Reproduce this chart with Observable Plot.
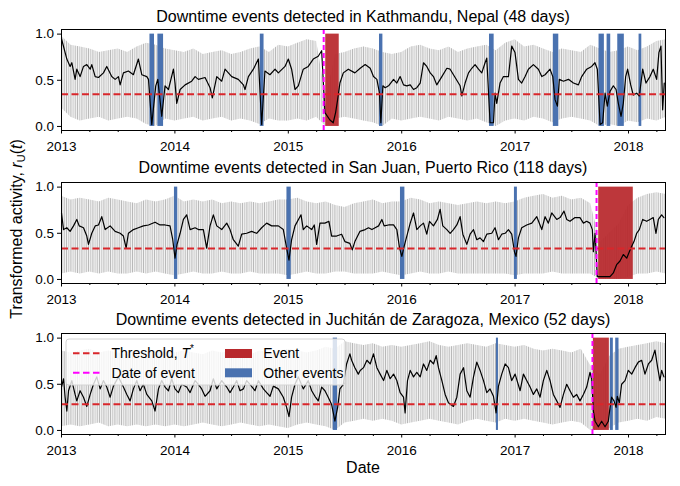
<!DOCTYPE html>
<html><head><meta charset="utf-8">
<script src="https://cdn.jsdelivr.net/npm/d3@7"></script>
<script src="https://cdn.jsdelivr.net/npm/@observablehq/plot@0.6"></script>
<style>
html,body{margin:0;padding:0;background:#fff;}
#wrap{position:relative;width:680px;height:486px;font-family:"Liberation Sans",Arial,sans-serif;}
#wrap svg{position:absolute;left:0;}
</style></head><body><div id="wrap"></div>
<script>
// ---------------- data (decimal years) ----------------
const titles = [
  "Downtime events detected in Kathmandu, Nepal (48 days)",
  "Downtime events detected in San Juan, Puerto Rico (118 days)",
  "Downtime events detected in Juchitán de Zaragoza, Mexico (52 days)"
];
const xTicks = [2013, 2014, 2015, 2016, 2017, 2018];
const xMinorTicks = [2013.25,2013.5,2013.75,2014.25,2014.5,2014.75,2015.25,2015.5,2015.75,2016.25,2016.5,2016.75,2017.25,2017.5,2017.75,2018.25];
const yTicks = [0, 0.5, 1.0];

const thresholds = [0.35, 0.335, 0.285];
const eventDates = [2015.312, 2017.718, 2017.682];
const eventSpans = [[2015.33, 2015.449], [2017.737, 2018.042], [2017.69, 2017.831]];

const otherKathmandu = [[2013.78,2013.82],[2013.85,2013.90],[2014.753,2014.786],[2015.804,2015.834],[2016.774,2016.815],[2017.337,2017.385],[2017.740,2017.787],[2017.811,2017.843],[2017.905,2017.963],[2018.093,2018.117]];
const otherSanJuan = [[2013.996,2014.025],[2014.988,2015.026],[2015.989,2016.028],[2016.994,2017.020]];
const otherJuchitan = [[2015.396,2015.434],[2016.835,2016.853],[2017.84,2017.866],[2017.887,2017.916]];

// smoothed activity (black line)
const smoothKathmandu = [[2013.000,0.95],[2013.047,0.73],[2013.076,0.65],[2013.091,0.69],[2013.120,0.51],[2013.135,0.62],[2013.164,0.54],[2013.194,0.65],[2013.223,0.67],[2013.253,0.62],[2013.267,0.67],[2013.297,0.54],[2013.326,0.53],[2013.370,0.58],[2013.399,0.65],[2013.443,0.54],[2013.473,0.51],[2013.502,0.54],[2013.517,0.45],[2013.546,0.58],[2013.590,0.60],[2013.634,0.56],[2013.678,0.73],[2013.708,0.56],[2013.752,0.54],[2013.767,0.51],[2013.796,0.02],[2013.831,0.44],[2013.849,0.51],[2013.884,0.11],[2013.913,0.44],[2013.943,0.40],[2013.987,0.62],[2014.001,0.47],[2014.016,0.25],[2014.046,0.40],[2014.090,0.45],[2014.148,0.49],[2014.178,0.54],[2014.207,0.51],[2014.266,0.53],[2014.310,0.42],[2014.330,0.31],[2014.369,0.54],[2014.413,0.49],[2014.442,0.62],[2014.501,0.54],[2014.559,0.51],[2014.604,0.45],[2014.618,0.40],[2014.648,0.54],[2014.692,0.62],[2014.736,0.73],[2014.765,0.02],[2014.794,0.60],[2014.838,0.56],[2014.883,0.62],[2014.912,0.58],[2014.971,0.65],[2015.000,0.73],[2015.029,0.62],[2015.059,0.40],[2015.088,0.44],[2015.132,0.62],[2015.176,0.65],[2015.220,0.73],[2015.264,0.76],[2015.294,0.82],[2015.323,0.15],[2015.367,0.07],[2015.396,0.04],[2015.417,0.15],[2015.435,0.29],[2015.455,0.47],[2015.485,0.58],[2015.529,0.62],[2015.587,0.58],[2015.634,0.63],[2015.678,0.67],[2015.722,0.63],[2015.751,0.54],[2015.781,0.51],[2015.804,0.36],[2015.816,0.04],[2015.834,0.44],[2015.854,0.42],[2015.884,0.44],[2015.928,0.51],[2015.957,0.47],[2015.986,0.54],[2016.016,0.45],[2016.045,0.44],[2016.075,0.45],[2016.104,0.40],[2016.133,0.42],[2016.163,0.47],[2016.192,0.69],[2016.221,0.65],[2016.251,0.58],[2016.280,0.54],[2016.309,0.45],[2016.354,0.54],[2016.398,0.63],[2016.427,0.62],[2016.471,0.53],[2016.515,0.44],[2016.530,0.33],[2016.559,0.47],[2016.589,0.58],[2016.618,0.63],[2016.647,0.67],[2016.677,0.62],[2016.706,0.58],[2016.735,0.69],[2016.750,0.74],[2016.779,0.04],[2016.809,0.04],[2016.823,0.36],[2016.838,0.25],[2016.867,0.47],[2016.897,0.54],[2016.941,0.54],[2016.970,0.87],[2016.999,0.80],[2017.029,0.51],[2017.058,0.47],[2017.088,0.54],[2017.117,0.62],[2017.161,0.67],[2017.205,0.62],[2017.235,0.54],[2017.264,0.56],[2017.308,0.62],[2017.332,0.54],[2017.352,0.29],[2017.373,0.22],[2017.390,0.51],[2017.426,0.49],[2017.470,0.51],[2017.514,0.47],[2017.558,0.45],[2017.587,0.54],[2017.631,0.62],[2017.675,0.65],[2017.704,0.69],[2017.725,0.62],[2017.749,0.02],[2017.772,0.04],[2017.793,0.36],[2017.813,0.22],[2017.837,0.38],[2017.866,0.44],[2017.890,0.40],[2017.910,0.25],[2017.934,0.11],[2017.954,0.25],[2017.975,0.54],[2017.992,0.62],[2018.019,0.45],[2018.042,0.34],[2018.072,0.36],[2018.095,0.33],[2018.125,0.62],[2018.154,0.47],[2018.189,0.54],[2018.218,0.62],[2018.248,0.51],[2018.268,0.80],[2018.286,0.87],[2018.301,0.18],[2018.315,0.47]];

const smoothSanJuan = [[2013.000,0.72],[2013.018,0.54],[2013.047,0.56],[2013.076,0.52],[2013.106,0.58],[2013.135,0.65],[2013.156,0.58],[2013.194,0.56],[2013.223,0.47],[2013.238,0.38],[2013.267,0.50],[2013.297,0.58],[2013.326,0.59],[2013.355,0.68],[2013.385,0.54],[2013.429,0.58],[2013.473,0.52],[2013.517,0.50],[2013.546,0.47],[2013.570,0.34],[2013.590,0.50],[2013.634,0.54],[2013.678,0.56],[2013.722,0.58],[2013.767,0.59],[2013.825,0.62],[2013.869,0.59],[2013.913,0.59],[2013.957,0.58],[2013.981,0.43],[2014.001,0.23],[2014.019,0.38],[2014.046,0.50],[2014.075,0.65],[2014.104,0.70],[2014.134,0.54],[2014.178,0.56],[2014.207,0.54],[2014.251,0.54],[2014.280,0.34],[2014.310,0.58],[2014.339,0.70],[2014.369,0.58],[2014.413,0.54],[2014.457,0.61],[2014.486,0.54],[2014.515,0.43],[2014.559,0.36],[2014.589,0.49],[2014.633,0.50],[2014.677,0.52],[2014.721,0.50],[2014.765,0.56],[2014.809,0.61],[2014.853,0.58],[2014.912,0.58],[2014.956,0.54],[2014.985,0.34],[2015.006,0.21],[2015.029,0.43],[2015.059,0.58],[2015.112,0.70],[2015.132,0.54],[2015.162,0.58],[2015.206,0.54],[2015.229,0.59],[2015.250,0.38],[2015.279,0.61],[2015.323,0.61],[2015.358,0.63],[2015.382,0.47],[2015.426,0.47],[2015.470,0.49],[2015.499,0.41],[2015.543,0.39],[2015.564,0.32],[2015.587,0.41],[2015.631,0.52],[2015.678,0.54],[2015.707,0.56],[2015.737,0.54],[2015.766,0.56],[2015.796,0.58],[2015.825,0.65],[2015.845,0.58],[2015.884,0.59],[2015.928,0.59],[2015.957,0.54],[2015.981,0.34],[2016.001,0.25],[2016.022,0.36],[2016.045,0.47],[2016.075,0.61],[2016.104,0.72],[2016.133,0.54],[2016.163,0.58],[2016.192,0.61],[2016.221,0.49],[2016.245,0.63],[2016.280,0.58],[2016.315,0.65],[2016.339,0.76],[2016.362,0.58],[2016.398,0.54],[2016.427,0.50],[2016.456,0.54],[2016.486,0.59],[2016.515,0.68],[2016.539,0.49],[2016.574,0.38],[2016.603,0.49],[2016.633,0.54],[2016.662,0.43],[2016.691,0.45],[2016.721,0.41],[2016.750,0.49],[2016.794,0.50],[2016.823,0.56],[2016.853,0.43],[2016.882,0.49],[2016.912,0.50],[2016.941,0.54],[2016.970,0.49],[2016.994,0.30],[2017.008,0.25],[2017.029,0.45],[2017.058,0.56],[2017.102,0.59],[2017.147,0.61],[2017.191,0.68],[2017.235,0.54],[2017.264,0.68],[2017.293,0.61],[2017.323,0.72],[2017.367,0.65],[2017.396,0.67],[2017.431,0.74],[2017.455,0.65],[2017.484,0.63],[2017.528,0.67],[2017.572,0.67],[2017.602,0.61],[2017.631,0.63],[2017.660,0.61],[2017.681,0.54],[2017.690,0.30],[2017.705,0.50],[2017.725,0.03],[2017.763,0.03],[2017.837,0.03],[2017.866,0.07],[2017.895,0.16],[2017.925,0.20],[2017.954,0.27],[2017.984,0.23],[2018.007,0.30],[2018.028,0.36],[2018.048,0.41],[2018.072,0.50],[2018.095,0.54],[2018.125,0.65],[2018.160,0.63],[2018.189,0.65],[2018.218,0.67],[2018.242,0.50],[2018.263,0.65],[2018.292,0.70],[2018.312,0.67]];

const smoothJuchitan = [[2013.000,0.47],[2013.018,0.56],[2013.032,0.36],[2013.047,0.21],[2013.062,0.43],[2013.091,0.54],[2013.120,0.39],[2013.135,0.32],[2013.164,0.43],[2013.194,0.36],[2013.223,0.26],[2013.253,0.39],[2013.282,0.50],[2013.311,0.58],[2013.341,0.45],[2013.370,0.54],[2013.399,0.47],[2013.429,0.36],[2013.458,0.48],[2013.502,0.58],[2013.546,0.47],[2013.576,0.39],[2013.605,0.32],[2013.634,0.45],[2013.664,0.54],[2013.693,0.43],[2013.722,0.50],[2013.752,0.39],[2013.796,0.32],[2013.825,0.21],[2013.855,0.45],[2013.884,0.54],[2013.913,0.47],[2013.943,0.43],[2013.972,0.56],[2014.001,0.45],[2014.031,0.41],[2014.060,0.50],[2014.104,0.47],[2014.134,0.41],[2014.178,0.54],[2014.207,0.50],[2014.236,0.45],[2014.266,0.37],[2014.310,0.43],[2014.339,0.56],[2014.369,0.45],[2014.413,0.54],[2014.457,0.47],[2014.486,0.41],[2014.515,0.47],[2014.545,0.54],[2014.574,0.43],[2014.604,0.45],[2014.633,0.54],[2014.662,0.50],[2014.706,0.43],[2014.736,0.54],[2014.780,0.45],[2014.809,0.41],[2014.839,0.37],[2014.868,0.48],[2014.912,0.45],[2014.956,0.36],[2014.985,0.25],[2015.006,0.15],[2015.029,0.36],[2015.059,0.50],[2015.088,0.58],[2015.132,0.45],[2015.176,0.54],[2015.206,0.43],[2015.235,0.37],[2015.264,0.32],[2015.294,0.47],[2015.323,0.43],[2015.352,0.36],[2015.382,0.28],[2015.411,0.10],[2015.435,0.25],[2015.455,0.45],[2015.485,0.50],[2015.514,0.72],[2015.543,0.83],[2015.558,0.76],[2015.587,0.68],[2015.617,0.61],[2015.634,0.65],[2015.663,0.68],[2015.693,0.76],[2015.722,0.72],[2015.751,0.83],[2015.781,0.68],[2015.810,0.61],[2015.840,0.54],[2015.869,0.65],[2015.898,0.56],[2015.928,0.61],[2015.957,0.54],[2015.986,0.41],[2016.016,0.36],[2016.030,0.19],[2016.051,0.54],[2016.075,0.65],[2016.104,0.58],[2016.133,0.63],[2016.163,0.58],[2016.192,0.72],[2016.221,0.65],[2016.251,0.76],[2016.280,0.72],[2016.304,0.81],[2016.324,0.68],[2016.354,0.54],[2016.383,0.39],[2016.412,0.30],[2016.456,0.26],[2016.486,0.36],[2016.515,0.61],[2016.545,0.68],[2016.574,0.43],[2016.603,0.36],[2016.633,0.58],[2016.662,0.74],[2016.691,0.65],[2016.721,0.54],[2016.750,0.41],[2016.779,0.45],[2016.809,0.37],[2016.832,0.19],[2016.853,0.48],[2016.882,0.61],[2016.912,0.72],[2016.941,0.68],[2016.970,0.54],[2017.000,0.61],[2017.044,0.43],[2017.073,0.61],[2017.102,0.54],[2017.132,0.47],[2017.161,0.39],[2017.191,0.45],[2017.220,0.36],[2017.249,0.54],[2017.279,0.65],[2017.308,0.54],[2017.337,0.39],[2017.367,0.32],[2017.396,0.25],[2017.426,0.39],[2017.455,0.50],[2017.484,0.43],[2017.514,0.36],[2017.543,0.39],[2017.572,0.32],[2017.602,0.39],[2017.631,0.47],[2017.660,0.63],[2017.675,0.56],[2017.690,0.21],[2017.705,0.10],[2017.734,0.04],[2017.763,0.10],[2017.793,0.04],[2017.822,0.10],[2017.837,0.25],[2017.851,0.36],[2017.872,0.32],[2017.890,0.25],[2017.901,0.37],[2017.919,0.30],[2017.939,0.50],[2017.969,0.54],[2017.998,0.65],[2018.028,0.61],[2018.057,0.68],[2018.086,0.74],[2018.116,0.76],[2018.145,0.61],[2018.175,0.72],[2018.204,0.76],[2018.233,0.87],[2018.257,0.68],[2018.277,0.54],[2018.292,0.65],[2018.312,0.58]];

// daily-activity envelope (grey), one value per month from Jan 2013
const grayHiKathmandu = [0.98,0.88,0.86,0.84,0.80,0.82,0.84,0.80,0.86,0.90,0.88,0.84, 0.82,0.80,0.84,0.78,0.80,0.82,0.78,0.80,0.84,0.86,0.80,0.88, 0.86,0.90,0.94,0.92,0.30,0.78,0.80,0.84,0.86,0.84,0.80,0.78, 0.80,0.86,0.88,0.84,0.82,0.86,0.80,0.84,0.86,0.88,0.82,0.90, 0.94,0.86,0.88,0.84,0.80,0.84,0.82,0.80,0.88,0.84,0.80,0.82, 0.86,0.82,0.86,0.92,0.94];
const grayLoKathmandu = [0.20,0.10,0.06,0.08,0.10,0.06,0.08,0.10,0.08,0.02,0.00,0.08, 0.06,0.08,0.10,0.06,0.08,0.10,0.06,0.08,0.06,0.02,0.08,0.06, 0.06,0.08,0.06,0.10,0.00,0.08,0.10,0.08,0.06,0.04,0.00,0.08, 0.06,0.08,0.10,0.08,0.06,0.10,0.08,0.06,0.08,0.04,0.00,0.06, 0.08,0.06,0.10,0.08,0.04,0.08,0.10,0.08,0.06,0.00,0.02,0.00, 0.06,0.04,0.08,0.06,0.10];
const grayHiSanJuan = [0.90,0.86,0.88,0.86,0.84,0.88,0.86,0.84,0.82,0.86,0.84,0.86, 0.90,0.84,0.86,0.84,0.86,0.82,0.84,0.82,0.84,0.82,0.84,0.86, 0.86,0.88,0.84,0.82,0.84,0.80,0.78,0.82,0.84,0.86,0.82,0.84, 0.84,0.88,0.86,0.82,0.84,0.82,0.80,0.82,0.84,0.82,0.84,0.82, 0.84,0.88,0.90,0.92,0.88,0.90,0.86,0.88,0.82,0.40,0.50,0.60, 0.80,0.88,0.92,0.94,0.92];
const grayLoSanJuan = [0.06,0.08,0.06,0.08,0.06,0.08,0.06,0.06,0.08,0.06,0.08,0.06, 0.04,0.06,0.08,0.06,0.06,0.08,0.06,0.06,0.08,0.06,0.06,0.06, 0.04,0.06,0.08,0.06,0.06,0.08,0.08,0.06,0.06,0.06,0.08,0.06, 0.04,0.06,0.08,0.06,0.06,0.08,0.06,0.06,0.06,0.06,0.06,0.06, 0.04,0.06,0.06,0.06,0.08,0.06,0.06,0.06,0.06,0.00,0.00,0.00, 0.02,0.06,0.06,0.08,0.06];
const grayHiJuchitan = [0.86,0.84,0.86,0.88,0.84,0.86,0.84,0.82,0.86,0.84,0.86,0.88, 0.84,0.86,0.84,0.82,0.86,0.84,0.86,0.84,0.82,0.86,0.84,0.86, 0.88,0.86,0.84,0.86,0.90,0.88,0.96,0.94,0.92,0.94,0.90,0.92, 0.90,0.92,0.94,0.96,0.92,0.90,0.92,0.94,0.92,0.90,0.94,0.92, 0.90,0.92,0.88,0.86,0.88,0.86,0.84,0.88,0.70,0.60,0.80,0.88, 0.90,0.92,0.94,0.96,0.94];
const grayLoJuchitan = [0.04,0.06,0.04,0.06,0.08,0.04,0.06,0.04,0.06,0.04,0.06,0.04, 0.06,0.04,0.06,0.08,0.06,0.04,0.06,0.08,0.06,0.04,0.06,0.04, 0.02,0.06,0.08,0.06,0.04,0.00,0.08,0.10,0.12,0.10,0.12,0.10, 0.06,0.08,0.10,0.12,0.10,0.08,0.06,0.10,0.12,0.10,0.08,0.12, 0.10,0.12,0.10,0.08,0.06,0.08,0.10,0.08,0.00,0.00,0.02,0.08, 0.10,0.12,0.10,0.14,0.12];

const legendItems = ["Threshold, T*", "Date of event", "Event", "Other events"];

// ---------------- styling ----------------
const BLUE = "#4a72b0", RED = "#b8282c", TRED = "#d9262b", MAG = "#ff00ff", GRAY = "#b9b9b9";
const FONT = "'Liberation Sans', Arial, Helvetica, sans-serif";

const panels = [
  {smooth: smoothKathmandu, hi: grayHiKathmandu, lo: grayLoKathmandu, other: otherKathmandu, top: 29},
  {smooth: smoothSanJuan, hi: grayHiSanJuan, lo: grayLoSanJuan, other: otherSanJuan, top: 181.7},
  {smooth: smoothJuchitan, hi: grayHiJuchitan, lo: grayLoJuchitan, other: otherJuchitan, top: 333}
];

const wrap = document.getElementById("wrap");

panels.forEach((p, k) => {
  const env = p.hi.map((h, i) => ({x: 2013 + i / 12, hi: h, lo: p.lo[i]}));
  const pid = "gstripe" + k;
  const svg = Plot.plot({
    width: 680, height: 131,
    marginLeft: 61, marginRight: 15, marginTop: 5, marginBottom: 25,
    style: {fontFamily: FONT, fontSize: "13.5px", color: "#000", background: "transparent", overflow: "visible"},
    x: {domain: [2013, 2018.326]},
    y: {domain: [-0.044, 1.05]},
    marks: [
      Plot.areaY(env, {x: "x", y1: "lo", y2: "hi", fill: "#f1f1f1"}),
      Plot.areaY(env, {x: "x", y1: "lo", y2: "hi", fill: `url(#${pid})`}),
      Plot.rect(p.other, {x1: d => d[0], x2: d => d[1], y1: 0, y2: 1, fill: BLUE}),
      Plot.rect([eventSpans[k]], {x1: d => d[0], x2: d => d[1], y1: 0, y2: 1, fill: RED, fillOpacity: 0.93}),
      Plot.line(p.smooth, {x: d => d[0], y: d => d[1], stroke: "#000", strokeWidth: 1.2}),
      Plot.ruleY([thresholds[k]], {stroke: TRED, strokeWidth: 2, strokeDasharray: "7,3.5"}),
      Plot.ruleX([eventDates[k]], {stroke: MAG, strokeWidth: 2, strokeDasharray: "5,3"}),
      Plot.frame({stroke: "#000", strokeWidth: 1}),
      Plot.axisX({ticks: xTicks, tickFormat: d => String(d), tickSize: 3.5, tickPadding: 7, fontSize: 13.5, label: null}),
      Plot.axisX({ticks: xMinorTicks, tickFormat: () => "", tickSize: 2, label: null}),
      Plot.axisY({ticks: yTicks, tickFormat: d => d.toFixed(1), tickSize: 4, tickPadding: 3.5, fontSize: 13.5, label: null})
    ]
  });
  // irregular vertical-stroke texture for the daily grey series
  d3.select(svg).insert("defs", ":first-child").html(
    `<pattern id="${pid}" patternUnits="userSpaceOnUse" width="11" height="10">` +
    `<rect x="0" y="0" width="1" height="10" fill="${GRAY}" fill-opacity="1"/>` +
    `<rect x="2.2" y="0" width="1" height="10" fill="${GRAY}" fill-opacity="0.7"/>` +
    `<rect x="4.4" y="0" width="1" height="10" fill="${GRAY}" fill-opacity="0.95"/>` +
    `<rect x="6.6" y="0" width="1" height="10" fill="${GRAY}" fill-opacity="0.6"/>` +
    `<rect x="8.8" y="0" width="1" height="10" fill="${GRAY}" fill-opacity="0.85"/>` +
    `</pattern>`
  );
  svg.style.top = (p.top - 5) + "px";
  wrap.appendChild(svg);
});

// ---------------- overlay: titles, labels, legend ----------------
const ov = d3.select(wrap).append("svg")
  .attr("width", 680).attr("height", 486)
  .style("top", "0px").style("font-family", FONT);

const titleBase = [21.5, 173.3, 325];
titles.forEach((t, k) => {
  ov.append("text").attr("x", 363).attr("y", titleBase[k]).attr("text-anchor", "middle")
    .attr("font-size", 16).attr("fill", "#000").text(t);
});

ov.append("text").attr("x", 363).attr("y", 473.3).attr("text-anchor", "middle")
  .attr("font-size", 16).attr("fill", "#000").text("Date");

const yl = ov.append("text").attr("transform", "translate(22,229) rotate(-90)")
  .attr("text-anchor", "middle").attr("font-size", 16).attr("fill", "#000");
yl.append("tspan").text("Transformed activity, ");
yl.append("tspan").attr("font-style", "italic").text("r");
yl.append("tspan").attr("font-size", 11).attr("dy", 3).text("U");
yl.append("tspan").attr("dy", -3).text("(");
yl.append("tspan").attr("font-style", "italic").text("t");
yl.append("tspan").text(")");

// legend
const lg = ov.append("g");
lg.append("rect").attr("x", 66).attr("y", 339).attr("width", 279).attr("height", 46).attr("rx", 3)
  .attr("fill", "#fff").attr("fill-opacity", 0.8).attr("stroke", "#d4d4d4").attr("stroke-width", 1);
lg.append("line").attr("x1", 73).attr("x2", 100).attr("y1", 353.3).attr("y2", 353.3)
  .attr("stroke", TRED).attr("stroke-width", 2).attr("stroke-dasharray", "6.5,3.5");
lg.append("line").attr("x1", 73).attr("x2", 100).attr("y1", 372.7).attr("y2", 372.7)
  .attr("stroke", MAG).attr("stroke-width", 2).attr("stroke-dasharray", "6.5,3.5");
lg.append("rect").attr("x", 225).attr("y", 349).attr("width", 27).attr("height", 9).attr("fill", RED);
lg.append("rect").attr("x", 225).attr("y", 368.3).attr("width", 27).attr("height", 9).attr("fill", BLUE);
const t1 = lg.append("text").attr("x", 111.5).attr("y", 358.3).attr("font-size", 14).attr("fill", "#000");
t1.append("tspan").text("Threshold, ");
t1.append("tspan").attr("font-style", "italic").text("T");
t1.append("tspan").attr("font-size", 10).attr("dy", -6).text("*");
lg.append("text").attr("x", 111.5).attr("y", 377.7).attr("font-size", 14).attr("fill", "#000").text(legendItems[1]);
lg.append("text").attr("x", 263.3).attr("y", 358.3).attr("font-size", 14).attr("fill", "#000").text(legendItems[2]);
lg.append("text").attr("x", 263.3).attr("y", 377.7).attr("font-size", 14).attr("fill", "#000").text(legendItems[3]);
</script></body></html>
